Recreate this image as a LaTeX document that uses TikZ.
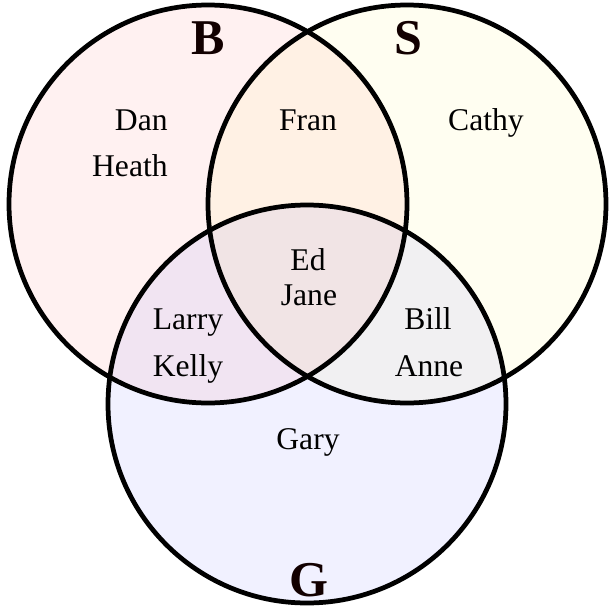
\documentclass[tikz,border=0pt]{standalone}
\usepackage{fontspec}
\setmainfont{Liberation Serif}
\usepackage{xcolor}
\usepackage{tikz}

\begin{document}
\begin{tikzpicture}[x=0.02cm,y=-0.02cm,
    setfill/.style={fill opacity=0.055},
    setline/.style={draw=black,line width=0.095cm},
    member/.style={font=\fontsize{18}{20}\selectfont,anchor=base,inner sep=0pt},
    setlabel/.style={font=\fontsize{28.5}{30}\selectfont\bfseries,anchor=base,inner sep=0pt,text=black!93!red}]
  \useasboundingbox (0,0) rectangle (610,613);
  % tinted discs
  \fill[red,setfill] (208,204) circle (199);
  \fill[yellow,setfill] (407,204) circle (199);
  \fill[blue,setfill] (307,404) circle (199);
  % outlines
  \draw[setline] (208,204) circle (199);
  \draw[setline] (407,204) circle (199);
  \draw[setline] (307,404) circle (199);
  % set labels
  \node[setlabel] (lb) at (208,54) {B};
  \node[setlabel] (ls) at (408,54) {S};
  \node[setlabel] (lg) at (309,596) {G};
  % members
  \node[member,anchor=base east] (dan) at (168,130) {Dan};
  \node[member,anchor=base east] (heath) at (168,176) {Heath};
  \node[member] (fran) at (308,130) {Fran};
  \node[member] (cathy) at (486,130) {Cathy};
  \node[member] (ed) at (308,270) {Ed};
  \node[member] (jane) at (309,305) {Jane};
  \node[member] (larry) at (188,329) {Larry};
  \node[member] (kelly) at (188,376) {Kelly};
  \node[member] (bill) at (428,329) {Bill};
  \node[member] (anne) at (429,376) {Anne};
  \node[member] (gary) at (308,449) {Gary};
\end{tikzpicture}
\end{document}
